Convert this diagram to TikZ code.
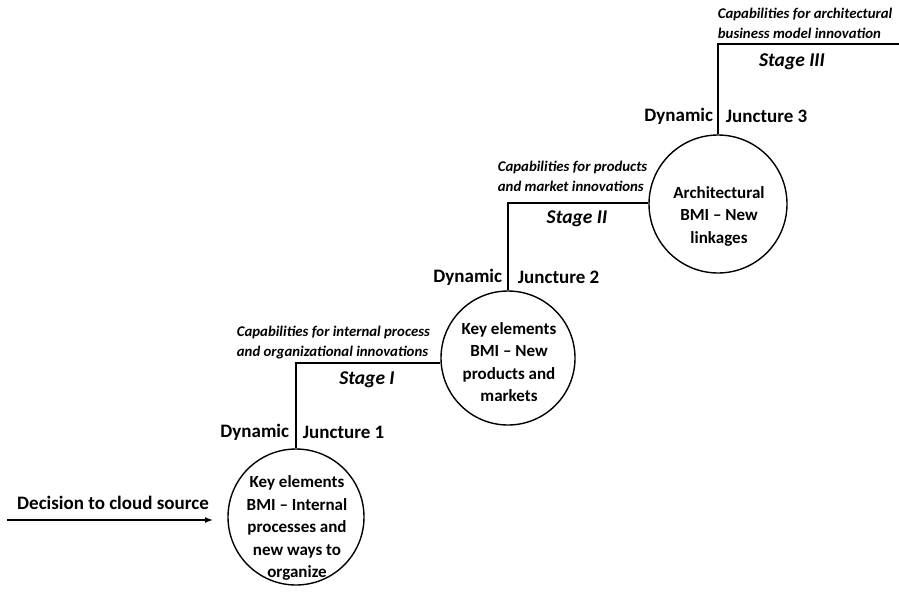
\documentclass[tikz,border=0pt]{standalone}
\usepackage{fontspec}
\setmainfont{Carlito}
\usetikzlibrary{arrows.meta}
\begin{document}
\begin{tikzpicture}[x=1pt,y=-1pt,
  line width=1.8pt,
  stagecircle/.style={circle,draw,line width=1.4pt,inner sep=0pt},
  circtext/.style={align=center,inner sep=0pt,font=\fontsize{17}{22.5}\selectfont\bfseries},
  lbl/.style={font=\fontsize{19}{22}\selectfont\bfseries,inner sep=0pt},
  captext/.style={font=\fontsize{14.8}{20}\selectfont\bfseries\itshape,align=left,inner sep=0pt},
  stg/.style={font=\fontsize{19.5}{22}\selectfont\bfseries\itshape,inner sep=0pt}]
\useasboundingbox (0,0) rectangle (899,592);
\node[stagecircle,minimum size=136pt] (c1) at (296,517) {};
\node[stagecircle,minimum size=134pt] (c2) at (508,358) {};
\node[stagecircle,minimum size=138pt] (c3) at (718,204) {};
\node[circtext] (t1) at (297,528) {Key elements\\BMI -- Internal\\processes and\\new ways to\\organize};
\node[circtext] (t2) at (509,362) {Key elements\\BMI -- New\\products and\\markets};
\node[circtext] (t3) at (719,216) {Architectural\\BMI -- New\\linkages};
\coordinate (a0) at (7,520);
\coordinate (a1) at (213,520);
\coordinate (k1) at (296,363);
\coordinate (k2) at (508,203);
\coordinate (k3) at (718,44);
\coordinate (e3) at (899,44);
\draw[-{Latex[length=8pt,width=6pt]},line width=1.4pt] (a0) -- (a1);
\draw (c1.north) -- (k1) -- (k1 -| c2.west);
\draw (c2.north) -- (k2) -- (k2 -| c3.west);
\draw (c3.north) -- (k3) -- (e3);
\node[lbl] (dec) at (113,503) {Decision to cloud source};
\node[lbl,anchor=east] (d1) at (290,432) {Dynamic};
\node[lbl,anchor=west] (j1) at (302,432) {Juncture 1};
\node[lbl,anchor=east] (d2) at (503,277) {Dynamic};
\node[lbl,anchor=west] (j2) at (517,277) {Juncture 2};
\node[lbl,anchor=east] (d3) at (714,116) {Dynamic};
\node[lbl,anchor=west] (j3) at (725,116) {Juncture 3};
\node[captext,anchor=west] (cp1) at (236,343) {Capabilities for internal process\\and organizational innovations};
\node[captext,anchor=west] (cp2) at (497,176) {Capabilities for products\\and market innovations};
\node[captext,anchor=west] (cp3) at (717,23) {Capabilities for architectural\\business model innovation};
\node[stg] (s1) at (367,380) {Stage I};
\node[stg] (s2) at (577,219) {Stage II};
\node[stg] (s3) at (792,62) {Stage III};
\end{tikzpicture}
\end{document}
